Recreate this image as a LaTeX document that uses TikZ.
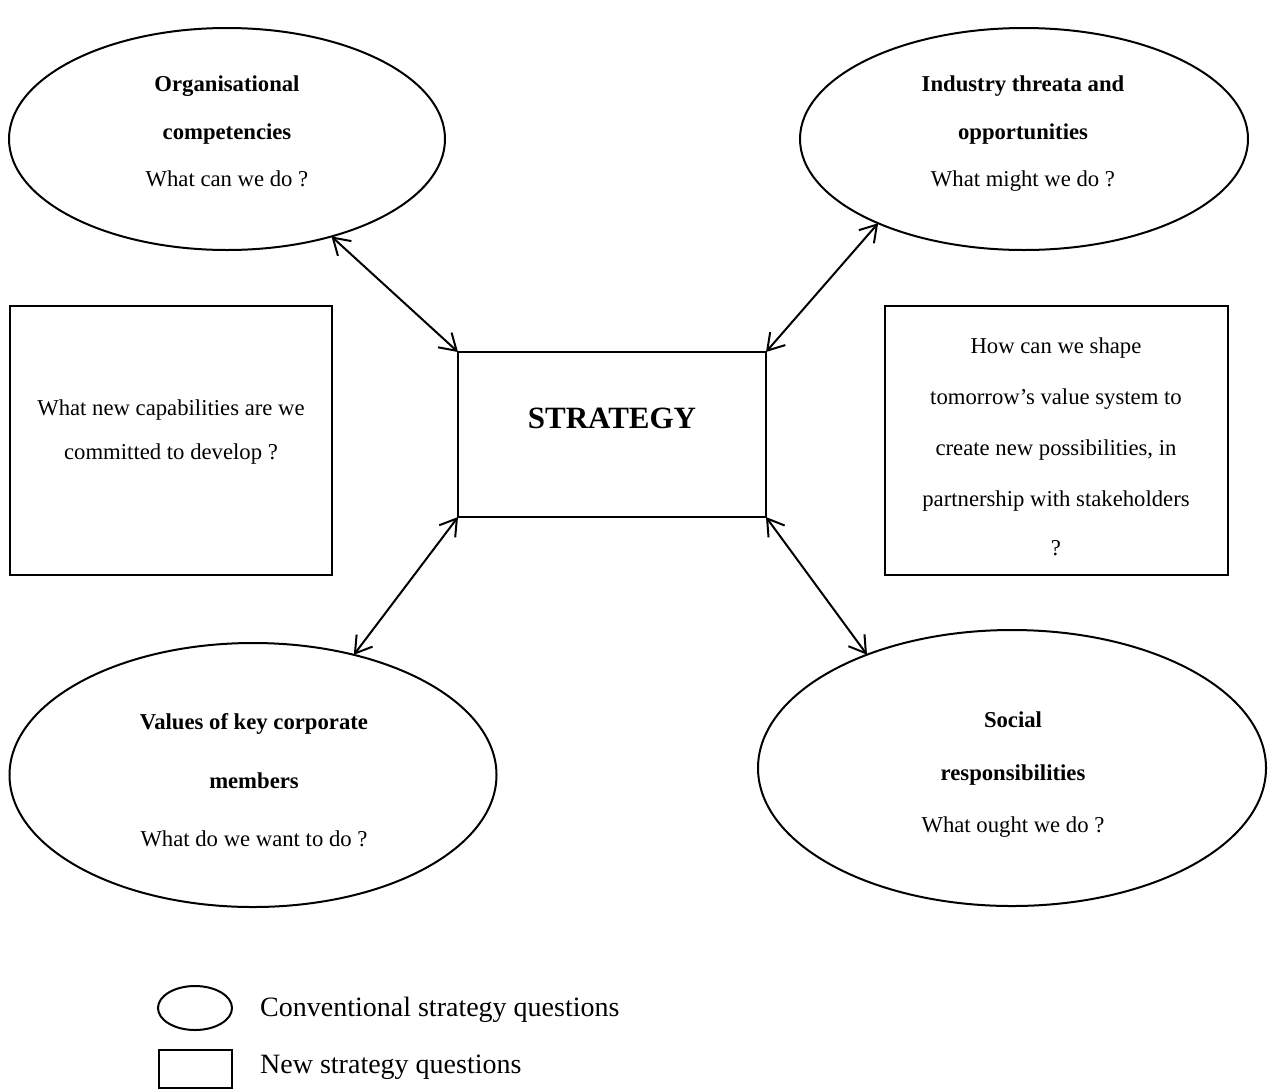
\documentclass[tikz,border=0pt]{standalone}
\usepackage{fontspec}
\setmainfont{Liberation Serif}
\usetikzlibrary{shapes.geometric,arrows.meta}
\begin{document}
\begin{tikzpicture}[x=1pt,y=-1pt,
  shp/.style={draw=black,line width=2pt,inner sep=0pt,outer sep=0pt},
  ell/.style={shp,ellipse},
  box/.style={shp,rectangle},
  ln/.style={inner sep=0pt,anchor=center,text height=15pt,text depth=0pt,font=\fontsize{22.7}{27}\selectfont},
  bln/.style={ln,font=\fontsize{22.7}{27}\selectfont\bfseries},
  leg/.style={inner sep=0pt,anchor=west,text height=19pt,text depth=0pt,font=\fontsize{28}{33}\selectfont},
  dbl/.style={line width=2pt,{Straight Barb[length=16pt,width=20pt,line width=2pt]}-{Straight Barb[length=16pt,width=20pt,line width=2pt]}}
]
\useasboundingbox (0,0) rectangle (1273,1090);

% ellipses
\node[ell,minimum width=436pt,minimum height=222pt] (org) at (227,139) {};
\node[ell,minimum width=448pt,minimum height=222pt] (ind) at (1024,139) {};
\node[ell,minimum width=487pt,minimum height=264pt] (val) at (253,775) {};
\node[ell,minimum width=508pt,minimum height=276pt] (soc) at (1012,768) {};

% rectangles
\node[box,minimum width=322pt,minimum height=269pt] (newcap) at (171,440.5) {};
\node[box,minimum width=308pt,minimum height=165pt] (strat) at (612,434.5) {};
\node[box,minimum width=343pt,minimum height=269pt] (shape) at (1056,440.5) {};

% texts
\node[bln] (t1a) at (227,84) {Organisational};
\node[bln] (t1b) at (227,132) {competencies};
\node[ln]  (t1c) at (227,179) {What can we do ?};

\node[bln] (t2a) at (1023,84) {Industry threata and};
\node[bln] (t2b) at (1023,132) {opportunities};
\node[ln]  (t2c) at (1023,179) {What might we do ?};

\node[bln] (t3a) at (254,722) {Values of key corporate};
\node[bln] (t3b) at (254,781) {members};
\node[ln]  (t3c) at (254,839) {What do we want to do ?};

\node[bln] (t4a) at (1013,720) {Social};
\node[bln] (t4b) at (1013,773) {responsibilities};
\node[ln]  (t4c) at (1013,825) {What ought we do ?};

\node[ln] (t5a) at (171,408) {What new capabilities are we};
\node[ln] (t5b) at (171,452) {committed to develop ?};

\node[ln] (t6a) at (1056,346) {How can we shape};
\node[ln] (t6b) at (1056,397) {tomorrow’s value system to};
\node[ln] (t6c) at (1056,448) {create new possibilities, in};
\node[ln] (t6d) at (1056,499) {partnership with stakeholders};
\node[ln] (t6e) at (1056,548) {?};

\node[inner sep=0pt,anchor=center,text height=21pt,text depth=0pt,font=\fontsize{31}{36}\selectfont\bfseries] (st) at (612,418) {STRATEGY};

% connectors
\draw[dbl] (org.-43) -- (strat.north west);
\draw[dbl] (ind.-150.3) -- (strat.north east);
\draw[dbl] (strat.south west) -- (val.50.7);
\draw[dbl] (strat.south east) -- (soc.142.8);

% legend
\node[ell,minimum width=74pt,minimum height=44pt] (lege) at (195,1008) {};
\node[box,minimum width=73pt,minimum height=38pt] (legr) at (195,1069) {};
\node[leg] (lt1) at (260,1007) {Conventional strategy questions};
\node[leg] (lt2) at (260,1064) {New strategy questions};
\end{tikzpicture}
\end{document}
